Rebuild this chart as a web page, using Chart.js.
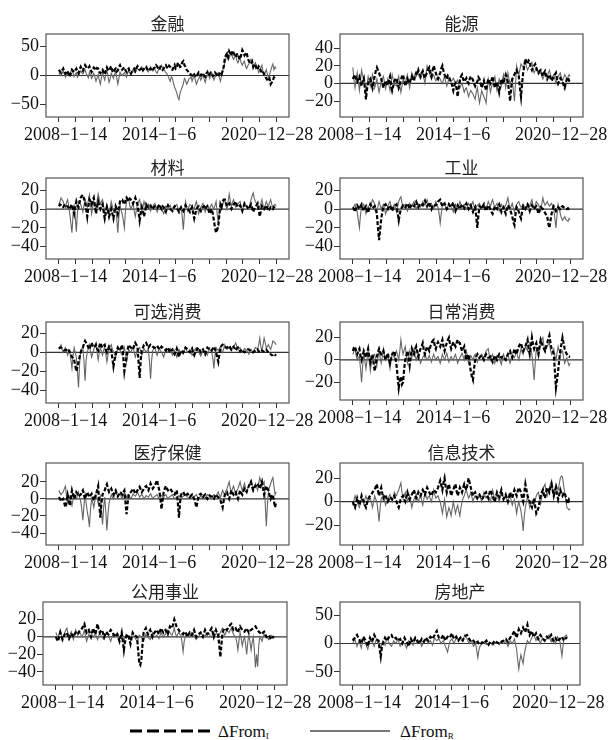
<!DOCTYPE html>
<html><head><meta charset="utf-8">
<script src="https://cdn.jsdelivr.net/npm/chart.js@4.4.1/dist/chart.umd.min.js"></script>
<style>
html,body{margin:0;padding:0;background:#fff;width:615px;height:740px;overflow:hidden;position:relative}
canvas{position:absolute}
.lg{position:absolute;font-family:"Liberation Serif","Times New Roman","DejaVu Serif",serif;font-size:17px;line-height:17px;color:#111;white-space:nowrap}
.lg sub{font-size:9px;vertical-align:-2px}
svg{position:absolute;left:0;top:0}
</style></head><body>
<svg width="615" height="740">
  <line x1="130" y1="731" x2="210" y2="731" stroke="#000" stroke-width="3" stroke-dasharray="12,5"/>
  <line x1="310" y1="731" x2="390" y2="731" stroke="#777" stroke-width="2"/>
</svg>
<div class="lg" style="left:218px;top:723px">ΔFrom<sub>I</sub></div>
<div class="lg" style="left:400px;top:723px">ΔFrom<sub>R</sub></div>
<script>
// ---- categories / ticks ----
const SECTORS = ['金融','能源','材料','工业','可选消费','日常消费','医疗保健','信息技术','公用事业','房地产'];
const WEEK_SPAN = 676; // 2008-1-14 .. 2020-12-28 in weeks
const TICK_WEEKS = [0,52,104,156,208,260,312,364,416,468,520,572,624,676];
const TICK_LABELS = {0:'   2008\u22121\u221214', 312:'2014\u22121\u22126', 676:'2020\u221212\u221228    '};
const Y_RANGES = [[-72,72],[-38,56],[-53,33],[-53,33],[-53.5,32],[-36,34],[-54,42],[-37,33],[-55,40],[-73,73]];
const Y_TICKS = [[-50,0,50],[-20,0,20,40],[-40,-20,0,20],[-40,-20,0,20],[-40,-20,0,20],[-20,0,20],[-40,-20,0,20],[-20,0,20],[-40,-20,0,20],[-50,0,50]];

// ---- series (ΔFrom_I black dashed, ΔFrom_R gray) ----
const fin_I = [
10,7,5,9,12,6,3,5,8,2,-2,4,10,8,6,9,12,7,4,11,
15,10,8,14,18,15,12,13,16,10,6,11,14,12,9,13,12,6,4,8,
10,5,2,9,14,10,8,13,16,8,5,10,12,7,9,15,18,13,10,12,
14,9,6,10,12,6,3,7,10,12,8,13,16,12,10,11,14,9,12,14,
15,11,8,10,12,8,10,13,14,18,16,12,10,15,14,10,12,16,18,14,
12,17,15,11,10,14,18,12,14,22,20,15,16,23,25,18,15,10,8,6,
4,1,0,4,2,-1,-3,2,5,1,0,4,3,0,-2,3,6,0,2,5,
4,-1,0,5,3,0,-2,3,5,2,8,15,30,35,38,32,42,38,35,43,
40,35,32,37,38,30,28,36,44,40,35,38,40,30,25,22,20,24,15,20,
18,12,10,16,14,8,5,7,2,-2,-5,-8,-10,-6,-15,-12,-8,-3,-5,-7];
const fin_R = [
5,2,0,4,8,3,-3,1,6,0,2,7,10,4,-2,2,5,-3,0,4,
8,5,3,7,10,4,0,-4,6,1,-5,-1,4,-3,-10,-4,2,-8,-15,-4,
5,-2,-8,2,10,-2,-12,-6,4,0,-5,2,8,-4,-15,-5,6,2,0,3,
5,1,-3,4,8,5,2,7,10,6,5,9,12,10,8,12,15,9,10,13,
12,8,6,11,15,10,8,13,10,6,4,9,12,15,18,13,10,8,5,3,
0,-6,-10,-2,-5,-14,-20,-25,-30,-38,-42,-30,-25,-20,-15,-5,-8,-15,-12,-6,
-5,-2,-10,-4,0,-8,-15,-10,-5,-2,-8,-3,2,-6,-12,-4,0,3,-5,0,
5,-2,-8,-3,0,3,5,-4,-10,0,8,15,22,30,35,28,30,36,38,32,
28,32,35,26,22,27,30,22,18,22,25,16,12,17,20,25,28,20,15,19,
22,16,12,5,8,14,18,6,0,5,10,2,-5,2,8,15,20,10,15,12];
const energy_I = [
5,8,10,4,2,6,8,1,-3,3,6,-5,-18,-6,0,3,5,0,-5,2,
8,14,18,15,12,8,5,0,-5,-1,3,0,-2,4,8,-2,-8,-3,2,5,
6,0,-5,-1,4,8,10,3,-3,1,5,2,0,5,8,4,3,9,12,10,
15,11,8,12,14,9,6,10,12,16,18,12,8,15,20,16,12,7,5,9,
12,17,20,14,10,7,5,9,8,4,2,-3,-8,-2,0,-6,-15,-4,3,8,
10,5,2,4,6,2,0,5,8,6,4,0,-3,0,2,7,5,0,-5,-1,
3,-3,-8,-1,5,2,0,4,8,1,-5,-1,2,-4,-10,-2,5,2,0,6,
10,6,2,-8,-20,-5,5,8,10,13,15,11,8,-5,-15,0,12,20,28,24,
22,26,25,18,15,18,20,22,18,14,12,14,15,11,8,12,14,9,5,8,
10,6,3,5,8,10,12,5,0,3,6,4,2,-2,-5,0,5,7,3,2];
const energy_R = [
18,5,-5,4,12,2,-8,3,15,9,5,-3,-10,-1,8,2,-3,4,10,2,
-5,0,5,-3,-10,-4,3,5,8,1,-6,0,5,-2,-8,2,10,4,0,-2,
-3,3,8,-2,-10,-3,5,2,0,6,10,2,-5,4,12,9,6,10,8,12,
10,7,5,11,15,6,0,10,20,16,12,8,5,8,10,6,3,5,8,6,
5,2,0,4,8,2,-3,1,5,3,2,4,6,3,0,2,4,-1,-5,-2,
0,-5,-10,-6,-5,-10,-15,-11,-8,-10,-12,-15,-18,-10,-5,-14,-22,-15,-8,-12,
-15,-18,-22,-8,5,-2,-10,-4,0,4,8,0,-8,-2,5,1,-3,4,10,3,
-5,4,12,5,0,3,5,-8,-20,0,20,14,10,16,22,20,18,21,24,19,
15,18,20,22,24,16,12,15,18,14,10,12,15,9,5,8,12,10,8,12,
15,10,5,8,10,5,0,4,8,10,12,7,3,6,10,8,5,7,10,8];
const mat_I = [
3,5,4,2,2,4,5,3,3,1,0,3,5,0,-5,2,8,4,2,7,
12,14,15,11,8,0,-8,2,10,8,5,9,12,4,-5,2,8,3,0,3,
5,-3,-10,-4,2,-2,-8,-4,0,-5,-10,-3,3,0,-5,2,8,10,10,7,
5,9,12,10,8,11,10,8,6,9,12,8,5,-3,-12,-4,2,-2,-8,-2,
5,3,2,4,4,1,0,2,3,2,1,3,5,2,0,3,2,-1,-3,1,
4,2,0,-1,-2,1,3,2,1,-1,-3,0,2,0,-2,1,4,2,0,-1,
-3,0,2,-4,-10,-5,0,2,3,0,-2,1,2,3,0,2,3,-1,-5,-2,
0,-5,-12,-20,-25,-22,-18,-6,5,2,8,10,10,6,3,5,6,2,0,3,
5,6,8,4,2,3,4,1,-2,2,6,4,3,1,0,3,5,1,-3,0,
2,4,6,-1,-8,-2,3,1,0,2,4,1,-2,0,2,1,0,2,1,0];
const mat_R = [
5,8,12,10,8,4,2,7,10,3,-5,-15,-25,-6,5,-8,-24,-4,8,6,
5,1,-3,4,10,6,2,9,15,5,-5,2,8,3,0,8,16,10,5,8,
10,3,-3,1,5,0,-5,2,8,3,-2,0,2,-10,-25,-8,5,-1,-5,-12,
-20,-2,8,12,10,4,0,3,6,-2,-8,-1,5,8,10,3,-3,2,8,4,
0,3,5,1,-2,1,3,5,6,1,-3,1,4,3,2,-2,-5,-1,3,1,
0,2,4,0,-3,0,2,4,5,1,-3,0,2,-8,-22,-5,8,3,-2,2,
5,4,3,1,0,5,8,2,-5,-1,2,4,6,1,-3,1,4,2,0,3,
5,2,0,4,8,-5,-15,-3,2,4,5,8,10,4,0,8,16,9,3,7,
10,5,2,4,5,7,8,3,-2,2,6,4,3,1,0,5,10,14,17,11,
8,6,5,3,2,6,10,4,0,4,8,5,3,7,10,5,2,4,5,3];
const ind_I = [
2,0,-3,1,4,2,0,3,5,1,-2,1,3,-1,-4,1,5,3,1,2,
3,-1,-5,-20,-33,-22,-10,-3,2,4,5,2,0,3,4,1,-2,1,3,4,
5,-4,-12,-5,0,2,4,3,2,4,6,3,0,3,5,4,3,6,8,5,
2,4,6,5,4,7,9,6,3,5,7,3,0,3,5,4,4,6,8,9,
10,6,3,5,6,3,0,2,5,3,2,5,7,2,-2,1,4,2,0,3,
5,3,1,4,6,3,0,2,4,0,-3,0,2,-8,-20,-6,3,2,0,3,
5,1,-2,1,4,2,0,-3,-5,-1,3,1,0,3,5,1,-3,0,2,-2,
-5,0,4,2,0,-4,-8,-14,-17,-5,2,0,-3,-7,-10,-3,3,1,0,3,
5,2,-2,1,4,2,0,2,3,-1,-5,-1,2,1,0,-2,-4,-6,-8,-15,
-20,-12,-5,0,3,1,-2,0,2,1,0,2,3,2,1,0,0,1,0,0];
const ind_R = [
0,3,5,1,-3,-12,-20,-6,2,4,5,0,-5,-1,3,1,0,6,10,8,
5,1,-3,3,8,4,0,3,5,0,-5,-1,3,6,8,3,0,3,5,1,
-3,3,8,11,13,6,2,4,5,1,-2,2,6,4,3,6,8,3,0,3,
5,3,2,5,8,6,4,7,10,6,3,5,6,2,0,4,8,5,2,-5,
-15,-4,3,4,5,2,0,3,6,4,2,0,-3,1,5,2,0,4,8,5,
3,4,5,2,0,3,6,4,2,5,8,3,0,2,4,5,6,3,2,4,
5,2,0,4,8,5,3,7,10,5,2,4,6,1,-2,2,5,2,0,2,
4,8,12,5,0,3,6,1,-3,1,5,7,8,4,2,3,5,2,0,3,
6,4,3,7,10,4,0,4,8,6,5,1,-2,5,12,7,4,6,8,5,
3,5,6,3,0,-10,-20,-6,5,0,-5,-9,-12,-10,-8,-11,-12,-13,-10,-11];
const cd_I = [
4,5,5,4,3,2,2,3,4,2,0,-2,-5,-6,-8,-14,-20,-15,-10,-5,
0,3,5,9,12,10,8,5,3,7,10,7,5,6,8,4,2,6,10,7,
5,7,8,3,0,3,6,4,2,-6,-15,-8,-3,2,5,3,2,5,8,-5,
-20,-12,-5,3,8,6,5,4,3,7,10,8,6,-10,-27,-8,2,5,8,9,
10,7,5,7,8,7,6,5,5,6,7,5,3,4,6,5,4,3,2,4,
5,2,0,2,3,0,-2,1,4,0,-5,-1,2,1,0,3,5,4,3,1,
0,2,4,0,-3,0,2,4,5,2,0,2,3,0,-2,2,5,4,4,3,
2,4,6,3,0,-5,-10,-2,5,7,8,7,6,5,5,6,7,5,3,5,
6,4,2,4,5,3,1,2,3,1,0,1,2,3,3,2,1,0,0,1,
2,3,3,1,0,1,2,1,1,2,3,1,0,-1,-2,-3,-3,-2,-3,-2];
const cd_R = [
3,6,8,3,0,3,5,1,-3,0,2,-8,-17,-4,5,0,-5,-20,-37,-12,
2,4,5,-10,-30,-8,0,4,8,1,-5,-1,3,7,10,0,-8,-1,5,1,
-3,2,6,-2,-10,-3,3,6,8,3,0,-2,-5,0,5,3,2,-1,-3,1,
5,-2,-10,-3,3,1,0,3,6,0,-5,-1,2,4,5,1,-3,1,4,2,
0,2,3,-10,-28,-8,2,4,5,0,-3,1,4,2,0,-2,-5,-1,2,1,
0,2,4,0,-3,0,2,-1,-5,-1,3,1,0,-1,-2,2,5,2,0,1,
3,0,-3,-1,2,4,5,2,0,-2,-4,-1,2,1,0,-1,-3,1,4,2,
0,-6,-17,-4,5,3,2,4,6,2,0,4,8,5,3,4,5,3,2,4,
6,8,10,6,3,4,5,2,0,2,4,3,2,0,-2,1,3,1,0,3,
5,4,3,8,15,6,2,8,15,10,5,6,8,5,3,7,12,11,10,8];
const cs_I = [
8,11,12,8,5,8,10,4,0,4,8,5,2,6,10,3,-2,2,5,-3,
-10,-4,3,7,10,7,5,6,8,3,0,3,6,1,-3,1,5,6,8,2,
-5,-15,-25,-18,-15,-22,-20,-8,0,4,8,2,-5,3,10,7,5,9,12,7,
3,7,10,12,15,9,5,9,12,10,8,12,15,17,18,13,10,14,16,14,
12,15,18,12,8,12,15,18,20,14,10,13,16,14,12,15,18,16,15,11,
8,10,12,5,0,3,5,-3,-10,-15,-18,-8,0,3,5,3,2,3,4,2,
0,3,5,3,2,2,3,0,-2,1,4,2,0,3,5,3,2,3,3,1,
0,3,5,7,8,4,2,6,10,7,5,9,12,14,15,11,8,10,12,15,
18,10,5,12,20,14,10,13,15,9,5,12,18,15,12,10,8,12,15,19,
22,15,10,8,5,-10,-25,-18,-10,0,8,14,20,15,10,7,5,4,3,3];
const cs_R = [
5,8,10,4,0,2,3,-8,-20,-5,5,-1,-8,0,8,-1,-10,-3,3,4,
5,0,-5,2,8,2,-3,3,10,4,0,3,5,-2,-8,-1,6,4,2,5,
8,4,0,8,18,10,5,9,12,4,-3,2,8,4,2,6,10,4,0,3,
5,1,-3,0,2,4,6,2,0,2,4,1,-2,2,5,2,0,2,3,0,
-3,1,5,2,0,3,6,2,-2,1,3,1,0,3,5,1,-3,0,2,4,
6,3,0,4,8,2,-3,1,4,2,0,3,5,1,-2,1,3,4,5,3,
2,5,8,9,10,4,0,3,5,1,-3,1,4,3,2,-1,-4,1,5,2,
0,3,6,1,-3,1,5,3,2,5,8,3,0,5,10,7,5,9,12,10,
8,12,15,9,5,-5,-18,-3,10,7,5,10,15,18,20,13,8,10,12,14,
15,9,5,8,10,4,0,6,12,8,5,7,8,2,-3,0,2,-2,-5,-3];
const hc_I = [
2,0,-3,-1,0,-5,-10,-2,5,-1,-8,1,10,5,0,4,8,6,3,4,
5,8,10,4,0,4,8,5,2,4,6,2,-2,2,5,10,15,-5,-22,-5,
5,8,10,14,17,12,8,10,12,8,5,8,10,6,3,5,8,7,5,8,
10,-4,-18,-5,5,7,8,10,12,9,6,8,10,12,14,11,8,10,12,14,
15,12,10,14,18,15,12,14,16,19,22,15,10,0,-12,-2,8,12,15,12,
10,11,12,10,8,6,5,8,10,-5,-22,-4,5,7,8,5,3,5,6,4,
2,4,5,2,0,-5,-10,-3,3,5,6,4,2,4,5,2,0,2,4,3,
3,1,0,3,5,3,2,0,-2,-6,-10,-2,5,7,8,3,0,5,10,7,
5,7,8,3,0,5,10,7,5,9,12,10,8,12,15,18,20,14,10,13,
15,17,18,15,12,16,20,12,5,10,15,12,10,4,0,3,5,-3,-10,-4];
const hc_R = [
10,7,5,7,8,12,15,4,-5,0,3,-3,-8,-1,5,2,0,4,8,2,
-3,-12,-25,-8,5,-5,-15,-22,-33,-12,0,-4,-10,-2,5,0,-5,-1,3,-12,
-30,-10,2,-15,-37,-18,-5,0,5,2,0,4,8,5,3,5,6,3,0,4,
8,5,2,4,5,2,0,3,6,4,3,5,8,5,2,4,5,3,0,2,
4,3,2,4,6,3,0,2,3,4,5,2,0,2,4,3,2,4,5,2,
0,2,3,4,5,2,0,1,2,3,4,2,0,2,3,4,5,3,2,1,
0,2,4,3,2,4,5,2,0,2,3,2,2,1,0,3,5,4,3,1,
0,3,5,4,3,6,8,4,2,6,10,7,5,9,12,16,20,12,8,12,
15,10,5,9,12,16,20,14,10,14,18,12,8,12,15,19,22,16,12,15,
18,14,10,18,25,20,15,18,20,-5,-32,-8,10,14,18,22,25,15,5,8];
const it_I = [
0,-3,-5,-1,3,0,-3,1,5,2,0,-3,-5,-1,2,4,5,6,8,9,
10,13,15,9,5,9,12,7,3,5,6,2,0,2,4,3,2,4,5,2,
0,-3,-5,-1,3,4,5,2,0,4,8,5,2,4,6,8,10,6,3,5,
8,6,5,8,10,8,6,9,12,10,8,6,5,8,10,9,8,10,12,15,
18,14,10,16,20,13,8,12,15,10,5,8,10,13,15,9,5,8,12,10,
8,12,15,12,10,15,20,16,12,8,5,7,8,5,3,5,6,4,2,3,
5,7,8,5,3,7,10,7,5,2,0,4,8,6,4,7,10,5,2,4,
6,3,0,4,8,5,3,7,10,7,5,9,12,10,8,3,0,8,15,10,
5,2,0,-3,-5,-1,3,-4,-10,-8,-5,0,5,8,10,6,3,8,12,10,
8,12,15,10,5,9,12,6,2,6,10,7,5,7,8,4,0,-2,2,1];
const it_R = [
-3,1,5,2,0,-3,-5,-1,3,0,-2,2,5,2,0,2,3,-1,-5,0,
5,2,0,-8,-17,-5,3,4,5,1,-3,0,2,4,6,3,0,4,8,6,
5,8,10,13,16,8,3,5,8,4,0,3,5,0,-5,-1,2,4,6,3,
0,3,5,1,-3,2,8,5,2,4,5,2,0,5,10,6,3,4,5,2,
0,-5,-10,-4,2,-6,-13,-9,-5,-8,-12,-6,0,-5,-10,-6,-3,-8,-12,-5,
0,3,5,8,10,6,3,5,8,4,0,3,5,3,2,4,6,3,0,4,
8,5,3,4,5,2,0,5,10,6,2,4,6,3,0,4,8,5,3,4,
5,2,0,3,6,1,-3,0,2,-4,-10,-4,0,-4,-8,-15,-25,-12,-5,0,
5,0,-5,-2,0,-2,-3,1,5,7,8,3,-2,4,10,13,15,9,5,8,
12,15,18,10,5,10,15,12,10,15,20,22,21,14,8,2,-5,-6,-7,-6];
const ut_I = [
0,-3,-5,0,5,1,-3,0,3,4,5,1,-2,1,4,2,0,3,5,4,
3,6,8,9,10,13,15,9,5,7,8,3,0,5,10,6,3,9,15,9,
5,7,8,4,0,3,6,4,3,6,8,6,5,2,0,2,3,-1,-5,0,
5,-5,-15,-6,0,2,3,-3,-8,-1,5,3,2,1,0,-15,-30,-32,-25,-8,
5,8,10,6,3,6,8,4,0,3,5,7,8,5,3,7,10,7,5,7,
8,5,3,8,12,11,10,15,20,16,12,10,8,6,5,4,3,5,6,3,
0,3,5,3,2,5,8,4,0,2,3,4,5,2,0,4,8,5,3,4,
5,8,10,5,0,4,8,5,3,-10,-23,-8,5,8,10,9,8,10,12,14,
15,11,8,9,10,7,5,9,12,10,8,7,6,8,10,7,5,7,8,9,
10,11,12,10,8,6,5,4,3,5,6,3,0,1,2,0,-3,-1,0,-1];
const ut_R = [
5,2,0,4,8,2,-3,1,5,8,10,4,0,3,6,1,-3,2,8,5,
2,4,5,2,0,4,8,1,-5,-1,3,5,6,2,0,2,4,0,-3,1,
5,2,0,-2,-3,1,4,3,2,-2,-5,-1,3,1,0,3,5,1,-2,0,
2,-2,-5,-1,3,1,0,-2,-3,1,5,2,0,-3,-5,-2,2,1,0,-3,
-5,-1,3,1,0,-2,-3,1,5,2,0,1,2,0,-2,2,5,2,0,2,
3,6,8,6,5,3,2,6,10,4,0,3,5,3,2,-6,-17,-5,0,2,
3,1,0,3,5,3,2,-1,-3,-1,0,2,4,3,2,1,0,3,5,4,
3,1,0,3,5,7,8,3,0,3,5,8,10,5,2,5,8,6,5,8,
10,6,3,1,0,-6,-15,-4,5,-2,-10,-4,0,-8,-20,-6,3,-5,-15,-6,
0,-15,-35,-20,-34,-10,0,-2,-5,0,3,1,0,-1,-3,0,2,1,0,1];
const re_I = [
5,8,10,13,15,11,8,3,0,6,12,8,5,0,-5,3,10,6,3,9,
15,11,8,6,5,-10,-23,-8,0,5,10,7,5,9,12,14,15,11,8,9,
10,7,5,7,8,3,0,5,10,6,3,-1,-5,2,8,4,2,6,10,7,
5,2,0,4,8,5,3,7,10,7,5,9,12,10,8,12,15,19,22,15,
10,9,8,12,15,9,5,9,12,11,10,14,18,12,8,10,12,8,5,8,
10,7,5,9,12,14,15,11,8,5,3,4,5,2,0,2,3,0,-2,0,
2,1,0,3,5,1,-2,1,3,1,0,3,5,3,2,1,0,2,3,4,
5,7,8,5,3,7,10,13,15,19,22,15,10,18,25,21,18,23,28,24,
20,27,33,22,15,19,22,16,12,15,18,12,8,12,15,12,10,7,5,9,
12,10,8,12,15,9,5,8,10,6,3,6,8,10,12,8,5,8,10,9];
const re_R = [
0,4,8,1,-5,0,5,-2,-8,2,10,4,0,-5,-10,-2,5,4,3,-1,
-5,2,8,3,0,-4,-8,-1,5,1,-3,4,10,4,0,-3,-5,0,5,2,
0,4,8,1,-5,-1,3,1,0,-4,-8,-1,5,3,2,0,-3,3,8,4,
0,3,5,0,-5,-1,3,6,8,4,0,3,5,1,-3,4,10,7,5,7,
8,4,0,3,5,0,-5,-10,-15,-5,3,6,8,4,0,5,10,7,5,9,
12,8,5,10,15,11,8,4,0,3,5,0,-5,-2,0,-12,-25,-12,-5,-2,
0,2,3,0,-2,-1,0,1,2,-1,-3,-1,0,1,2,0,-2,2,5,2,
0,2,3,-1,-5,0,5,2,0,4,8,-2,-10,-30,-45,-30,-20,-28,-35,-20,
-10,-2,5,2,0,5,10,13,15,10,5,9,12,6,0,5,10,7,5,7,
8,12,15,8,3,7,10,5,0,6,12,8,5,-8,-22,-5,10,13,15,12];

const SERIES_I = [fin_I, energy_I, mat_I, ind_I, cd_I, cs_I, hc_I, it_I, ut_I, re_I];
const SERIES_R = [fin_R, energy_R, mat_R, ind_R, cd_R, cs_R, hc_R, it_R, ut_R, re_R];

// ---- layout (plot box in page px: left, top, right, bottom) ----
const BOXES = [
  [46,34,289,117],[340,34,583,117],
  [46,178,289,259],[340,178,583,259],
  [46,322,289,403],[340,322,583,400],
  [46,463,289,545],[340,463,583,545],
  [43,602,287,685],[340,602,580,685]
];

const SERIF = '"Liberation Serif","Times New Roman","DejaVu Serif",serif';
const minusFmt = v => v < 0 ? '\u2212' + Math.abs(v) : String(v);

const deco = {
  id: 'panelDeco',
  beforeDatasetsDraw(chart) {
    const {ctx, chartArea: a, scales: {y}} = chart;
    const y0 = y.getPixelForValue(0);
    ctx.save();
    ctx.strokeStyle = '#333'; ctx.lineWidth = 1.2;
    ctx.beginPath(); ctx.moveTo(a.left, y0); ctx.lineTo(a.right, y0); ctx.stroke();
    ctx.restore();
  },
  afterDatasetsDraw(chart, args, opts) {
    const {ctx, chartArea: a} = chart;
    ctx.save();
    ctx.strokeStyle = '#555'; ctx.lineWidth = 1.2;
    ctx.strokeRect(a.left, a.top, a.right - a.left, a.bottom - a.top);
    ctx.fillStyle = '#222';
    ctx.font = '17px "Noto Sans CJK SC"';
    ctx.textAlign = 'center'; ctx.textBaseline = 'middle';
    ctx.fillText(opts.title, (a.left + a.right) / 2, a.top - 10);
    ctx.restore();
  }
};

function makeChart(k) {
  const [bl, bt, br, bb] = BOXES[k];
  const col = k % 2;
  const cLeft = col === 0 ? 0 : 290;
  const cW = col === 0 ? 332 : 325;
  const cTop = bt - 30;
  const cH = (bb - bt) + 64;
  const YW = 44, XH = 30;
  const canvas = document.createElement('canvas');
  canvas.width = cW; canvas.height = cH;
  canvas.style.left = cLeft + 'px'; canvas.style.top = cTop + 'px';
  canvas.style.width = cW + 'px'; canvas.style.height = cH + 'px';
  document.body.appendChild(canvas);
  const toPts = arr => arr.map((v, i) => ({x: i * WEEK_SPAN / (arr.length - 1), y: v}));
  const axisFont = {family: SERIF, size: 18};
  new Chart(canvas, {
    type: 'line',
    data: {datasets: [
      {label: 'ΔFrom_I', data: toPts(SERIES_I[k]), borderColor: '#000', borderWidth: 2.2, borderDash: [4, 2], pointRadius: 0, tension: 0, order: 0},
      {label: 'ΔFrom_R', data: toPts(SERIES_R[k]), borderColor: '#666', borderWidth: 1.1, pointRadius: 0, tension: 0, order: 1}
    ]},
    options: {
      responsive: false, animation: false, devicePixelRatio: 1,
      layout: {padding: {left: bl - cLeft - YW, right: cLeft + cW - br, top: bt - cTop, bottom: cTop + cH - bb - XH}},
      plugins: {legend: {display: false}, tooltip: {enabled: false}, panelDeco: {title: SECTORS[k]}},
      scales: {
        x: {
          type: 'linear', min: -40, max: 716,
          afterBuildTicks: s => { s.ticks = TICK_WEEKS.map(v => ({value: v})); },
          afterFit: s => { s.height = XH; s.paddingLeft = 0; s.paddingRight = 0; },
          grid: {drawOnChartArea: false, drawTicks: true, tickLength: 5, color: '#333', lineWidth: 1},
          border: {display: false},
          ticks: {autoSkip: false, maxRotation: 0, minRotation: 0, padding: 2, color: '#111', font: axisFont,
                  callback: v => TICK_LABELS[v] ?? ''}
        },
        y: {
          min: Y_RANGES[k][0], max: Y_RANGES[k][1],
          afterBuildTicks: s => { s.ticks = Y_TICKS[k].map(v => ({value: v})); },
          afterFit: s => { s.width = YW; s.paddingTop = 0; s.paddingBottom = 0; },
          grid: {drawOnChartArea: false, drawTicks: true, tickLength: 6, color: '#333', lineWidth: 1},
          border: {display: false},
          ticks: {padding: 1, color: '#111', font: axisFont, callback: v => minusFmt(v)}
        }
      }
    },
    plugins: [deco]
  });
}
for (let k = 0; k < SECTORS.length; k++) makeChart(k);
</script>
</body></html>
